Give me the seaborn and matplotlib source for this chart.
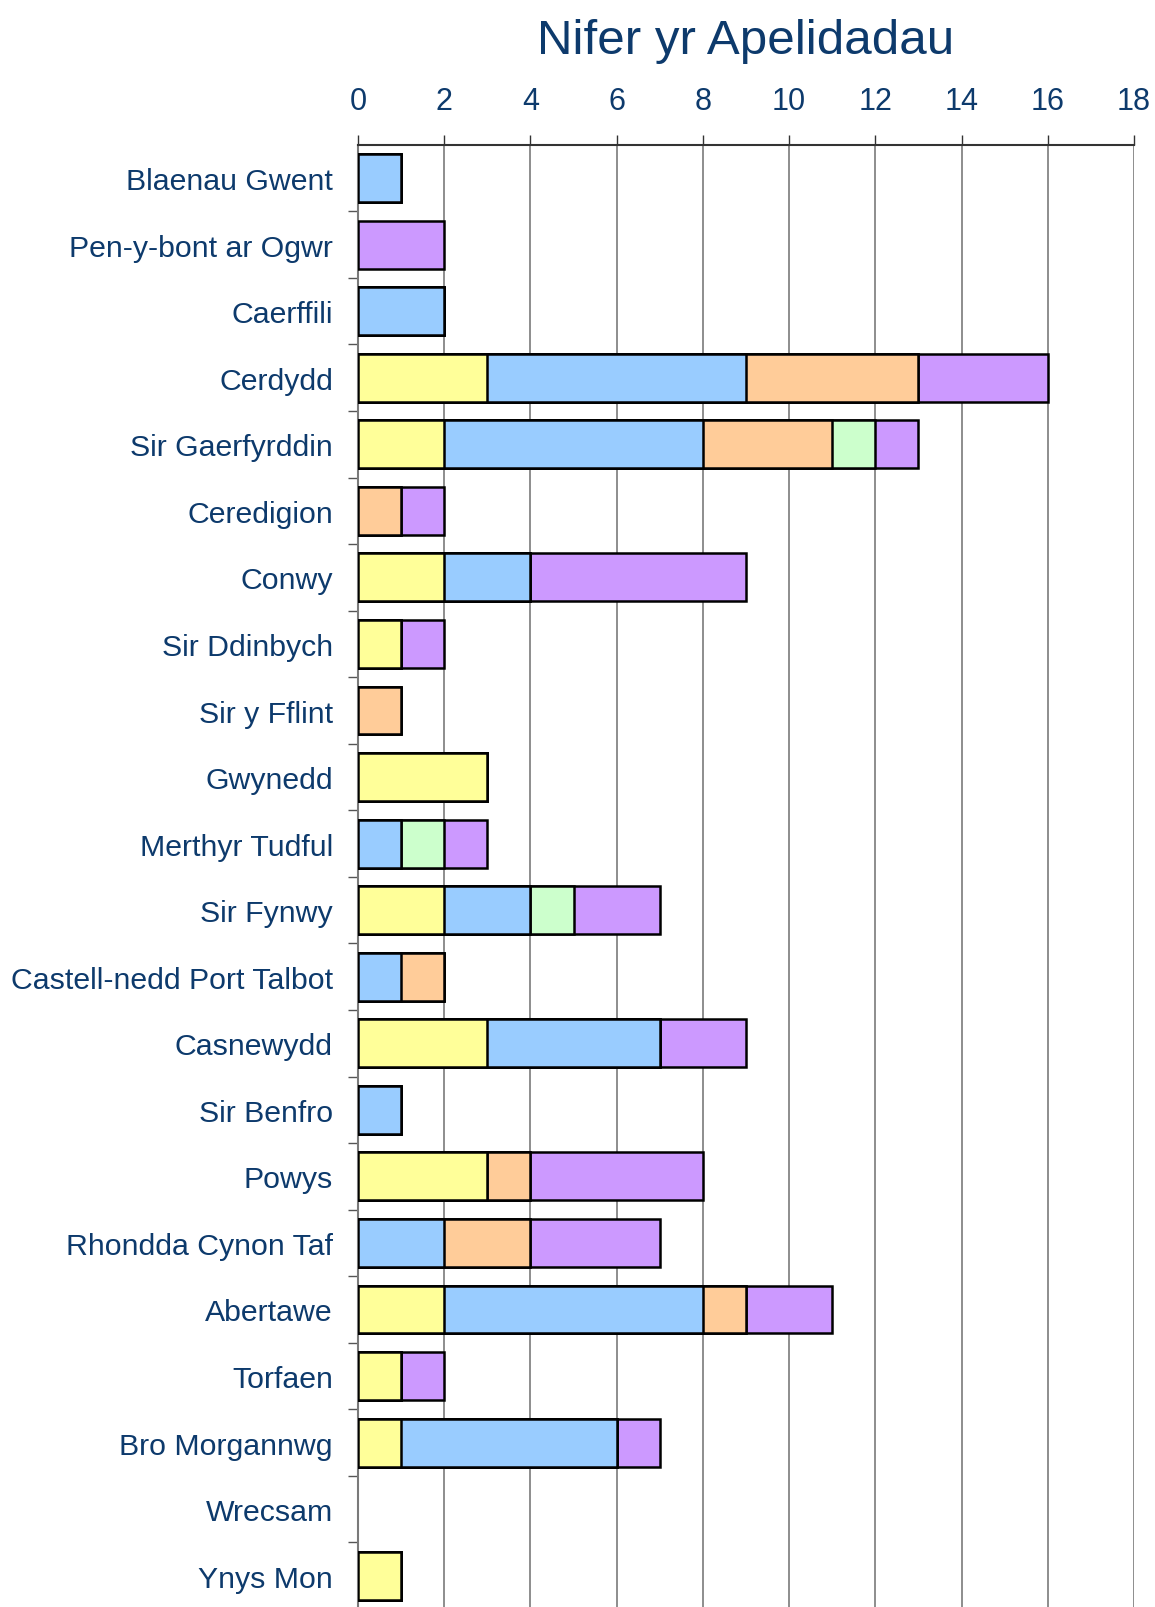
import numpy as np
import pandas as pd
import matplotlib
matplotlib.use("Agg")
import matplotlib.pyplot as plt
import seaborn as sns
from matplotlib.ticker import MultipleLocator, FixedLocator

areas = ["Blaenau Gwent", "Pen-y-bont ar Ogwr", "Caerffili", "Cerdydd",
         "Sir Gaerfyrddin", "Ceredigion", "Conwy", "Sir Ddinbych",
         "Sir y Fflint", "Gwynedd", "Merthyr Tudful", "Sir Fynwy",
         "Castell-nedd Port Talbot", "Casnewydd", "Sir Benfro", "Powys",
         "Rhondda Cynon Taf", "Abertawe", "Torfaen", "Bro Morgannwg",
         "Wrecsam", "Ynys Mon"]

yellow = [0, 0, 0, 3, 2, 0, 2, 1, 0, 3, 0, 2, 0, 3, 0, 3, 0, 2, 1, 1, 0, 1]
blue   = [1, 0, 2, 6, 6, 0, 2, 0, 0, 0, 1, 2, 1, 4, 1, 0, 2, 6, 0, 5, 0, 0]
orange = [0, 0, 0, 4, 3, 1, 0, 0, 1, 0, 0, 0, 1, 0, 0, 1, 2, 1, 0, 0, 0, 0]
green  = [0, 0, 0, 0, 1, 0, 0, 0, 0, 0, 1, 1, 0, 0, 0, 0, 0, 0, 0, 0, 0, 0]
purple = [0, 2, 0, 3, 1, 1, 5, 1, 0, 0, 1, 2, 0, 2, 0, 4, 3, 2, 1, 1, 0, 0]

series = [("yellow", yellow, "#FFFF99"), ("blue", blue, "#99CCFF"),
          ("orange", orange, "#FFCC99"), ("green", green, "#CCFFCC"),
          ("purple", purple, "#CC99FF")]

text_col = "#0D3A6C"

sns.set_style("white")
plt.rcParams["font.family"] = ["Liberation Sans", "DejaVu Sans"]

fig = plt.figure(figsize=(11.55, 16.08), dpi=100)
ax = fig.add_axes([358 / 1155, -0.0012, 776 / 1155, 0.9105])

df = pd.DataFrame({"area": areas})
cum = np.zeros(len(areas))
layers = []
for name, vals, col in series:
    cum = cum + np.array(vals)
    layers.append((name, cum.copy(), col))

# stacked look: draw cumulative totals from the outermost segment inward
for name, c, col in reversed(layers):
    df[name] = c
    sns.barplot(data=df, x=name, y="area", orient="h", color=col,
                saturation=1, width=0.72, edgecolor="black",
                linewidth=1.8, ax=ax, zorder=3)

for p in ax.patches:
    if p.get_width() == 0:
        p.set_linewidth(0)

ax.set_xlim(0, 18)
ax.set_ylim(len(areas) - 0.5, -0.5)
ax.set_xlabel("")
ax.set_ylabel("")
ax.xaxis.tick_top()
ax.xaxis.set_major_locator(MultipleLocator(2))
ax.grid(axis="x", color="#7a7a7a", linewidth=1.2)
ax.grid(axis="y", visible=False)
ax.set_axisbelow(True)

ax.tick_params(axis="x", which="major", labelsize=22, labelcolor=text_col,
               direction="out", length=7, width=1, color="#333333", pad=14)
ax.tick_params(axis="y", which="major", labelsize=21.8, labelcolor=text_col,
               length=0, pad=18)
ax.yaxis.set_minor_locator(FixedLocator(np.arange(0.5, len(areas) - 0.5, 1)))
ax.tick_params(axis="y", which="minor", direction="out", length=7,
               width=1, color="#555555", left=True)

for s in ["right", "bottom"]:
    ax.spines[s].set_visible(False)
ax.spines["top"].set_color("#333333")
ax.spines["top"].set_linewidth(1.5)
ax.spines["left"].set_color("#7a7a7a")
ax.spines["left"].set_linewidth(1.5)

fig.text(746 / 1155, 1 - 41 / 1608, "Nifer yr Apelidadau", ha="center",
         va="center", fontsize=35.5, color=text_col)

fig.savefig("out.png", dpi=100)
